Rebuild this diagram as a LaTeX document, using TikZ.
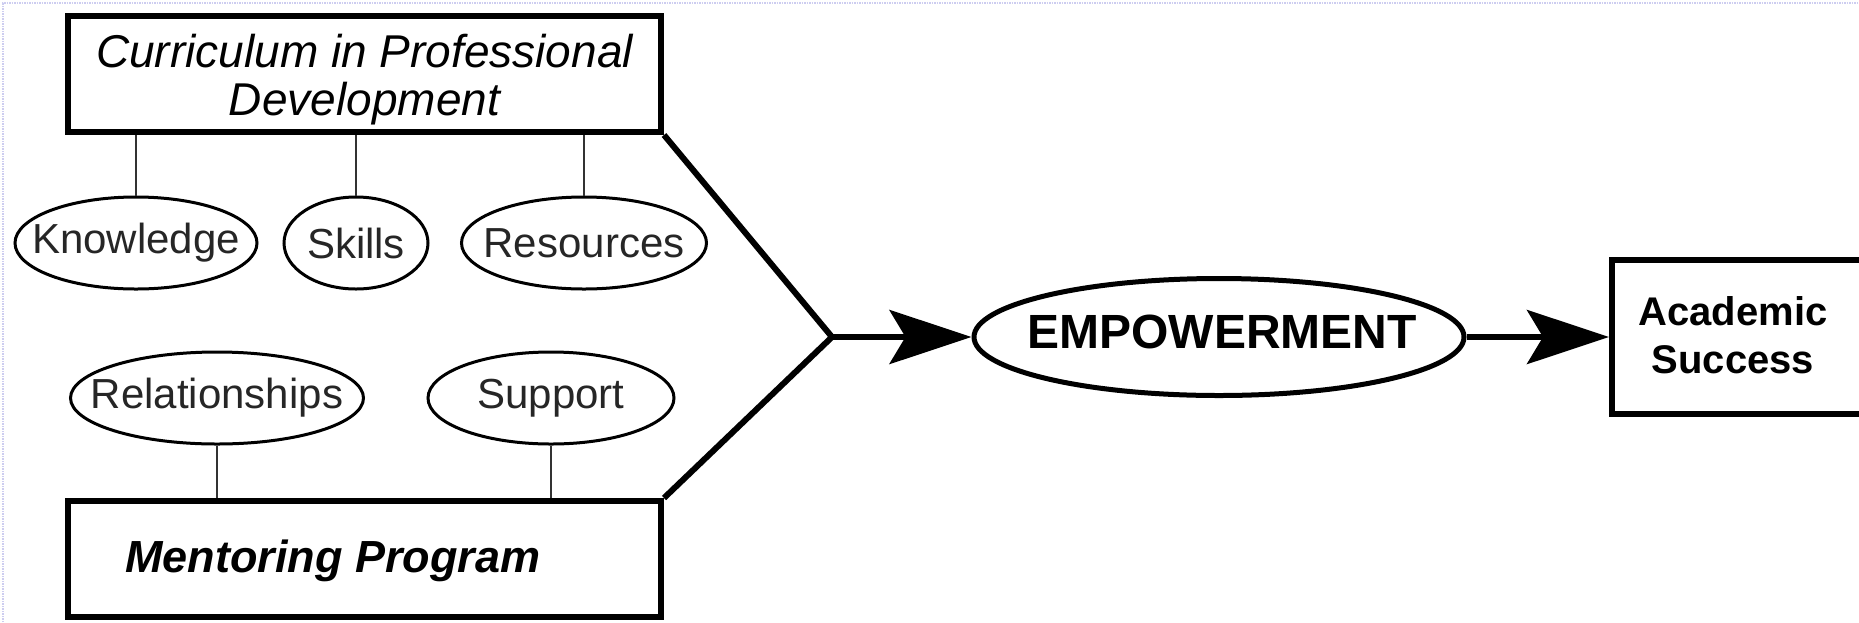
\documentclass[tikz,border=0pt]{standalone}
\usepackage{fontspec}
\setmainfont{Liberation Sans}
\usetikzlibrary{shapes.geometric,arrows.meta}
\tikzset{
  bigbox/.style={draw, line width=6pt, rectangle, inner sep=0pt},
  smallell/.style={draw, ellipse, line width=3pt, inner sep=0pt, minimum height=92pt, text=black!85, font=\fontsize{42}{48}\selectfont},
  link/.style={line width=2.5pt, black!80},
  chev/.style={line width=6pt, line join=miter},
  bigarrow/.style={line width=6pt, -{Stealth[length=82pt, width=54pt, inset=16pt]}},
}
\newcommand{\zw}[1]{\makebox[0pt]{#1}}
\begin{document}
\begin{tikzpicture}[x=1pt,y=-1pt]
\clip (0,0) rectangle (1859,622);
\fill[white] (0,0) rectangle (1859,622);
\draw[densely dotted, line width=1.5pt, color={rgb,255:red,205;green,205;blue,240}] (3,622) -- (3,3) -- (1859,3);
% top box
\node[bigbox, minimum width=593pt, minimum height=116pt] (top) at (364.5,74) {};
\node[align=center, font=\fontsize{46}{48}\selectfont\itshape] (ttext) at (364.5,80) {Curriculum in Professional\\Development};
% bottom box
\node[bigbox, minimum width=593pt, minimum height=116pt] (bot) at (364.5,559) {};
\node[font=\fontsize{45}{48}\selectfont\bfseries\itshape] (mtext) at (333,561) {Mentoring Program};
% ellipses
\node[smallell, minimum width=242pt] (k) at (136,243) {\zw{Knowledge}};
\node[smallell, minimum width=144pt] (s) at (356,243) {\zw{Skills}};
\node[smallell, minimum width=245pt] (r) at (584,243) {\zw{Resources}};
\node[smallell, minimum width=293pt] (rel) at (217,398) {\zw{Relationships}};
\node[smallell, minimum width=246pt] (sup) at (551,398) {\zw{Support}};
% connectors
\draw[link] (k.north) -- (k.north |- top.south);
\draw[link] (s.north) -- (s.north |- top.south);
\draw[link] (r.north) -- (r.north |- top.south);
\draw[link] (rel.south) -- (rel.south |- bot.north);
\draw[link] (sup.south) -- (sup.south |- bot.north);
% chevron
\coordinate (v) at (832,337);
\draw[chev] (top.south east) -- (v) -- (bot.north east);
% empowerment
\node[draw, ellipse, line width=5pt, inner sep=0pt, minimum width=490pt, minimum height=117pt] (emp) at (1219,337) {};
\node[font=\fontsize{48}{52}\selectfont\bfseries] (etext) at (1222,332) {EMPOWERMENT};
% academic success
\node[bigbox, minimum width=288pt, minimum height=154pt] (acad) at (1756,337) {};
\node[align=center, font=\fontsize{40}{48}\selectfont\bfseries] (atext) at (1733,335) {Academic\\Success};
% arrows
\draw[bigarrow] (v) -- (emp.west);
\draw[bigarrow] (emp.east) -- (acad.west);
\end{tikzpicture}
\end{document}
